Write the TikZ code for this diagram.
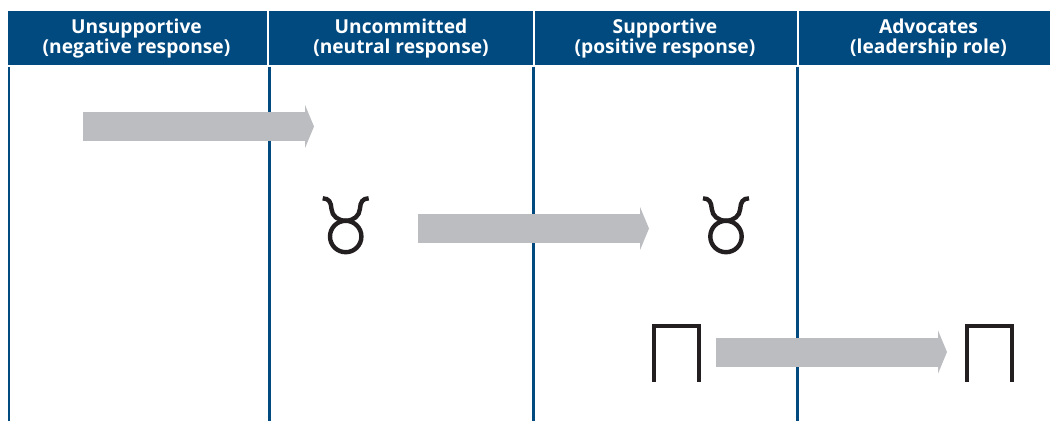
\documentclass[tikz,border=0pt]{standalone}
\usepackage{fontspec}
\setmainfont{Open Sans}
\usetikzlibrary{arrows.meta}
\definecolor{headblue}{HTML}{004A80}
\definecolor{bargray}{HTML}{BBBDC0}
\definecolor{glyphblack}{HTML}{231F20}
\tikzset{
  headlabel/.style={text=white,align=center,inner sep=0pt,font=\fontsize{19.2}{20}\selectfont\bfseries},
  rule/.style={draw=headblue,line width=2.4pt},
  bararrow/.style={draw=bargray,line width=29pt,-{Triangle[length=9pt,width=43pt,fill=bargray]}},
  glyph/.style={draw=glyphblack,line width=4.4pt}
}
\begin{document}
\begin{tikzpicture}[x=1pt,y=-1pt]
  \useasboundingbox (0,0) rectangle (1050,421);

  % Draw the header cells
  \fill[headblue] (8,11) rectangle (266.5,65);
  \fill[headblue] (268.5,11) rectangle (532.5,65);
  \fill[headblue] (534.5,11) rectangle (796.5,65);
  \fill[headblue] (798.5,11) rectangle (1050,65);

  \node[headlabel] (unsupportive) at (136.5,38.5) {Unsupportive\\(negative response)};
  \node[headlabel] (uncommitted) at (401,38.5) {Uncommitted\\(neutral response)};
  \node[headlabel] (supportive) at (665,38.5) {Supportive\\(positive response)};
  \node[headlabel] (advocates) at (928.5,38.5) {Advocates\\(leadership role)};

  % Draw the column rules
  \foreach \colx in {9,269.5,533.5,797.5} {
    \draw[rule] (\colx,66.5) -- (\colx,421);
  }

  % Draw the arrows
  \coordinate (startA) at (83,126.5);
  \coordinate (endA) at (314,126.5);
  \coordinate (startB) at (418,228.5);
  \coordinate (endB) at (649,228.5);
  \coordinate (startC) at (716,352);
  \coordinate (endC) at (947,352);
  \draw[bararrow] (startA) -- (endA);
  \draw[bararrow] (startB) -- (endB);
  \draw[bararrow] (startC) -- (endC);

  % Draw the bull signs
  \foreach \offx in {345.7,726} {
    \draw[glyph] (\offx,236.5) circle (15.7pt);
    \draw[glyph] (\offx-23,198.3) .. controls (\offx-16.7,198.5) and (\offx-14.7,202) .. (\offx-14.2,209)
      .. controls (\offx-13.7,216) and (\offx-7.7,220.7) .. (\offx,220.7)
      .. controls (\offx+7.7,220.7) and (\offx+13.7,216) .. (\offx+14.2,209)
      .. controls (\offx+14.7,202) and (\offx+16.7,198.5) .. (\offx+23,198.3);
  }

  % Draw the gate signs
  \foreach \offx in {653.5,967} {
    \draw[glyph,line width=4pt] (\offx,381.7) -- (\offx,325.5) -- (\offx+45,325.5) -- (\offx+45,381.7);
  }

\end{tikzpicture}
\end{document}
